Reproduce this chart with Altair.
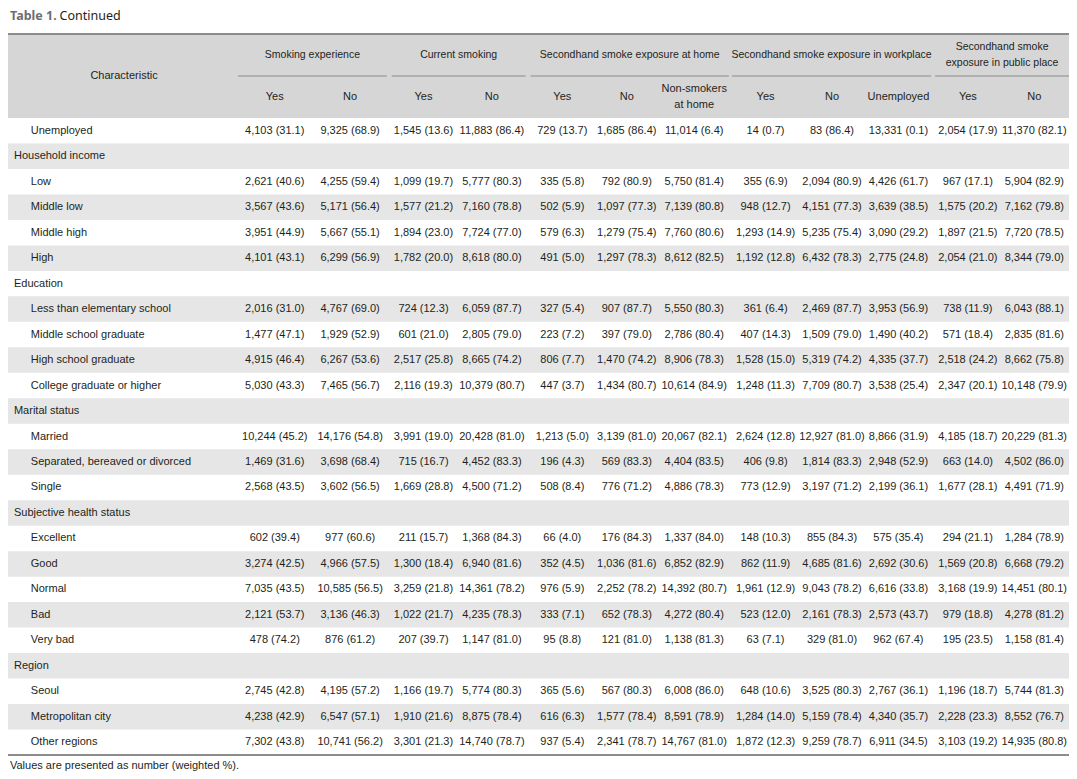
import altair as alt
import pandas as pd

# ---------------- text content ----------------
title_bold = "Table 1."
title_rest = "Continued"
footnote = "Values are presented as number (weighted %)."
stub_header = "Characteristic"

group_headers = [
    ["Smoking experience"],
    ["Current smoking"],
    ["Secondhand smoke exposure at home"],
    ["Secondhand smoke exposure in workplace"],
    ["Secondhand smoke", "exposure in public place"],
]
sub_headers = [
    ["Yes"], ["No"], ["Yes"], ["No"],
    ["Yes"], ["No"], ["Non-smokers", "at home"],
    ["Yes"], ["No"], ["Unemployed"],
    ["Yes"], ["No"],
]

row_labels = [
    "Unemployed",
    "Household income", "Low", "Middle low", "Middle high", "High",
    "Education", "Less than elementary school", "Middle school graduate",
    "High school graduate", "College graduate or higher",
    "Marital status", "Married", "Separated, bereaved or divorced", "Single",
    "Subjective health status", "Excellent", "Good", "Normal", "Bad", "Very bad",
    "Region", "Seoul", "Metropolitan city", "Other regions",
]
row_is_group = [
    False,
    True, False, False, False, False,
    True, False, False, False, False,
    True, False, False, False,
    True, False, False, False, False, False,
    True, False, False, False,
]

# ---------------- values: number (weighted %) per column, data rows only ----------------
smk_exp_yes_n = [4103, 2621, 3567, 3951, 4101, 2016, 1477, 4915, 5030, 10244, 1469, 2568, 602, 3274, 7035, 2121, 478, 2745, 4238, 7302]
smk_exp_yes_p = [31.1, 40.6, 43.6, 44.9, 43.1, 31.0, 47.1, 46.4, 43.3, 45.2, 31.6, 43.5, 39.4, 42.5, 43.5, 53.7, 74.2, 42.8, 42.9, 43.8]
smk_exp_no_n = [9325, 4255, 5171, 5667, 6299, 4767, 1929, 6267, 7465, 14176, 3698, 3602, 977, 4966, 10585, 3136, 876, 4195, 6547, 10741]
smk_exp_no_p = [68.9, 59.4, 56.4, 55.1, 56.9, 69.0, 52.9, 53.6, 56.7, 54.8, 68.4, 56.5, 60.6, 57.5, 56.5, 46.3, 61.2, 57.2, 57.1, 56.2]

cur_yes_n = [1545, 1099, 1577, 1894, 1782, 724, 601, 2517, 2116, 3991, 715, 1669, 211, 1300, 3259, 1022, 207, 1166, 1910, 3301]
cur_yes_p = [13.6, 19.7, 21.2, 23.0, 20.0, 12.3, 21.0, 25.8, 19.3, 19.0, 16.7, 28.8, 15.7, 18.4, 21.8, 21.7, 39.7, 19.7, 21.6, 21.3]
cur_no_n = [11883, 5777, 7160, 7724, 8618, 6059, 2805, 8665, 10379, 20428, 4452, 4500, 1368, 6940, 14361, 4235, 1147, 5774, 8875, 14740]
cur_no_p = [86.4, 80.3, 78.8, 77.0, 80.0, 87.7, 79.0, 74.2, 80.7, 81.0, 83.3, 71.2, 84.3, 81.6, 78.2, 78.3, 81.0, 80.3, 78.4, 78.7]

home_yes_n = [729, 335, 502, 579, 491, 327, 223, 806, 447, 1213, 196, 508, 66, 352, 976, 333, 95, 365, 616, 937]
home_yes_p = [13.7, 5.8, 5.9, 6.3, 5.0, 5.4, 7.2, 7.7, 3.7, 5.0, 4.3, 8.4, 4.0, 4.5, 5.9, 7.1, 8.8, 5.6, 6.3, 5.4]
home_no_n = [1685, 792, 1097, 1279, 1297, 907, 397, 1470, 1434, 3139, 569, 776, 176, 1036, 2252, 652, 121, 567, 1577, 2341]
home_no_p = [86.4, 80.9, 77.3, 75.4, 78.3, 87.7, 79.0, 74.2, 80.7, 81.0, 83.3, 71.2, 84.3, 81.6, 78.2, 78.3, 81.0, 80.3, 78.4, 78.7]
home_ns_n = [11014, 5750, 7139, 7760, 8612, 5550, 2786, 8906, 10614, 20067, 4404, 4886, 1337, 6852, 14392, 4272, 1138, 6008, 8591, 14767]
home_ns_p = [6.4, 81.4, 80.8, 80.6, 82.5, 80.3, 80.4, 78.3, 84.9, 82.1, 83.5, 78.3, 84.0, 82.9, 80.7, 80.4, 81.3, 86.0, 78.9, 81.0]

work_yes_n = [14, 355, 948, 1293, 1192, 361, 407, 1528, 1248, 2624, 406, 773, 148, 862, 1961, 523, 63, 648, 1284, 1872]
work_yes_p = [0.7, 6.9, 12.7, 14.9, 12.8, 6.4, 14.3, 15.0, 11.3, 12.8, 9.8, 12.9, 10.3, 11.9, 12.9, 12.0, 7.1, 10.6, 14.0, 12.3]
work_no_n = [83, 2094, 4151, 5235, 6432, 2469, 1509, 5319, 7709, 12927, 1814, 3197, 855, 4685, 9043, 2161, 329, 3525, 5159, 9259]
work_no_p = [86.4, 80.9, 77.3, 75.4, 78.3, 87.7, 79.0, 74.2, 80.7, 81.0, 83.3, 71.2, 84.3, 81.6, 78.2, 78.3, 81.0, 80.3, 78.4, 78.7]
work_un_n = [13331, 4426, 3639, 3090, 2775, 3953, 1490, 4335, 3538, 8866, 2948, 2199, 575, 2692, 6616, 2573, 962, 2767, 4340, 6911]
work_un_p = [0.1, 61.7, 38.5, 29.2, 24.8, 56.9, 40.2, 37.7, 25.4, 31.9, 52.9, 36.1, 35.4, 30.6, 33.8, 43.7, 67.4, 36.1, 35.7, 34.5]

pub_yes_n = [2054, 967, 1575, 1897, 2054, 738, 571, 2518, 2347, 4185, 663, 1677, 294, 1569, 3168, 979, 195, 1196, 2228, 3103]
pub_yes_p = [17.9, 17.1, 20.2, 21.5, 21.0, 11.9, 18.4, 24.2, 20.1, 18.7, 14.0, 28.1, 21.1, 20.8, 19.9, 18.8, 23.5, 18.7, 23.3, 19.2]
pub_no_n = [11370, 5904, 7162, 7720, 8344, 6043, 2835, 8662, 10148, 20229, 4502, 4491, 1284, 6668, 14451, 4278, 1158, 5744, 8552, 14935]
pub_no_p = [82.1, 82.9, 79.8, 78.5, 79.0, 88.1, 81.6, 75.8, 79.9, 81.3, 86.0, 71.9, 78.9, 79.2, 80.1, 81.2, 81.4, 81.3, 76.7, 80.8]

columns = [
    (smk_exp_yes_n, smk_exp_yes_p), (smk_exp_no_n, smk_exp_no_p),
    (cur_yes_n, cur_yes_p), (cur_no_n, cur_no_p),
    (home_yes_n, home_yes_p), (home_no_n, home_no_p), (home_ns_n, home_ns_p),
    (work_yes_n, work_yes_p), (work_no_n, work_no_p), (work_un_n, work_un_p),
    (pub_yes_n, pub_yes_p), (pub_no_n, pub_no_p),
]

# ---------------- layout (reference page pixel units) ----------------
FONT = "Liberation Sans, Arial, Helvetica, sans-serif"
FS = 11
FS_GROUP = 10.5
TITLE_FONT = "Noto Sans, Open Sans, sans-serif"
INK = "#231f20"
TABLE_L, TABLE_R = 3, 1073
TOP_RULE = 34
HEAD_TOP, HEAD_BOT = 35, 118
BOTTOM_RULE = 755
ROW_H = (BOTTOM_RULE - HEAD_BOT) / len(row_labels)
GROUP_Y, SUBRULE_Y, SUB_Y = 55, 76, 97
LINE_GAP = 16.5
COL_X = [272, 348, 422, 491, 562, 627, 695, 767, 834, 901, 971, 1038]
GROUP_SPAN = [(235, 385), (390, 525), (530, 730), (733, 934), (938, 1073)]
STUB_X, GROUP_LABEL_X, ITEM_LABEL_X = 120, 9, 26
TITLE_Y = 15.5
W, H = 1061, 763


def row_mid(i):
    return HEAD_BOT + (i + 0.5) * ROW_H


# ---------------- build tables ----------------
rects = [dict(x=TABLE_L, x2=TABLE_R, y=HEAD_TOP, y2=HEAD_BOT, fill="#d6d6d6")]
for i in range(len(row_labels)):
    if i % 2 == 1:
        rects.append(dict(x=TABLE_L, x2=TABLE_R, y=HEAD_BOT + i * ROW_H,
                          y2=HEAD_BOT + (i + 1) * ROW_H, fill="#e6e6e6"))
rects_df = pd.DataFrame(rects)

rules = [
    dict(x=TABLE_L, x2=TABLE_R, y=TOP_RULE, w=2, c="#8c8c8c"),
    dict(x=TABLE_L, x2=TABLE_R, y=BOTTOM_RULE, w=2, c="#8c8c8c"),
]
for a, b in GROUP_SPAN:
    rules.append(dict(x=a, x2=b, y=SUBRULE_Y, w=1.5, c="#a3a3a3"))
rules_df = pd.DataFrame(rules)

group_text = []
for (a, b), lines in zip(GROUP_SPAN, group_headers):
    n = len(lines)
    for k, ln in enumerate(lines):
        group_text.append(dict(x=(a + b) / 2, y=GROUP_Y + (k - (n - 1) / 2) * LINE_GAP, t=ln))
group_df = pd.DataFrame(group_text)

center_text = [dict(x=STUB_X, y=SUBRULE_Y, t=stub_header)]
for cx, lines in zip(COL_X, sub_headers):
    n = len(lines)
    for k, ln in enumerate(lines):
        center_text.append(dict(x=cx, y=SUB_Y + (k - (n - 1) / 2) * LINE_GAP, t=ln))

data_rows = [i for i, g in enumerate(row_is_group) if not g]
for cx, (ns, ps) in zip(COL_X, columns):
    for r, nv, pv in zip(data_rows, ns, ps):
        center_text.append(dict(x=cx, y=row_mid(r), t=f"{nv:,} ({pv:.1f})"))
center_df = pd.DataFrame(center_text)

left_text = []
for i, (lab, g) in enumerate(zip(row_labels, row_is_group)):
    left_text.append(dict(x=GROUP_LABEL_X if g else ITEM_LABEL_X, y=row_mid(i), t=lab))
left_text.append(dict(x=5, y=766, t=footnote))
left_df = pd.DataFrame(left_text)

title_b_df = pd.DataFrame([dict(x=5, y=TITLE_Y, t=title_bold)])
title_r_df = pd.DataFrame([dict(x=55, y=TITLE_Y, t=title_rest)])

# ---------------- scales: reference page pixels -> plot area ----------------
xs = alt.Scale(domain=[TABLE_L, TABLE_R], range=[0, W], nice=False, zero=False)
ys = alt.Scale(domain=[8, 8 + H], range=[0, H], nice=False, zero=False)
X = lambda f: alt.X(f + ":Q", scale=xs, axis=None)
Y = lambda f: alt.Y(f + ":Q", scale=ys, axis=None)

bg = alt.Chart(rects_df).mark_rect(strokeWidth=0).encode(
    x=X("x"), x2="x2", y=Y("y"), y2="y2",
    color=alt.Color("fill:N", scale=None),
)
lines = alt.Chart(rules_df).mark_rule().encode(
    x=X("x"), x2="x2", y=Y("y"),
    color=alt.Color("c:N", scale=None),
    strokeWidth=alt.StrokeWidth("w:Q", scale=None),
)
gtext = alt.Chart(group_df).mark_text(
    align="center", baseline="middle", font=FONT, fontSize=FS_GROUP, color=INK
).encode(x=X("x"), y=Y("y"), text="t:N")
ctext = alt.Chart(center_df).mark_text(
    align="center", baseline="middle", font=FONT, fontSize=FS, color=INK
).encode(x=X("x"), y=Y("y"), text="t:N")
ltext = alt.Chart(left_df).mark_text(
    align="left", baseline="middle", font=FONT, fontSize=FS, color=INK
).encode(x=X("x"), y=Y("y"), text="t:N")
tb = alt.Chart(title_b_df).mark_text(
    align="left", baseline="middle", font=TITLE_FONT, fontSize=12.5, fontWeight="bold", color="#6d6e71"
).encode(x=X("x"), y=Y("y"), text="t:N")
tr = alt.Chart(title_r_df).mark_text(
    align="left", baseline="middle", font=TITLE_FONT, fontSize=12.5, color=INK
).encode(x=X("x"), y=Y("y"), text="t:N")

chart = alt.layer(bg, lines, gtext, ctext, ltext, tb, tr).properties(
    width=W, height=H, padding=0, autosize=alt.AutoSizeParams(type="none"),
    background="white",
).configure_view(stroke=None)

chart.save("out.html", embed_options={"renderer": "svg", "actions": False})
